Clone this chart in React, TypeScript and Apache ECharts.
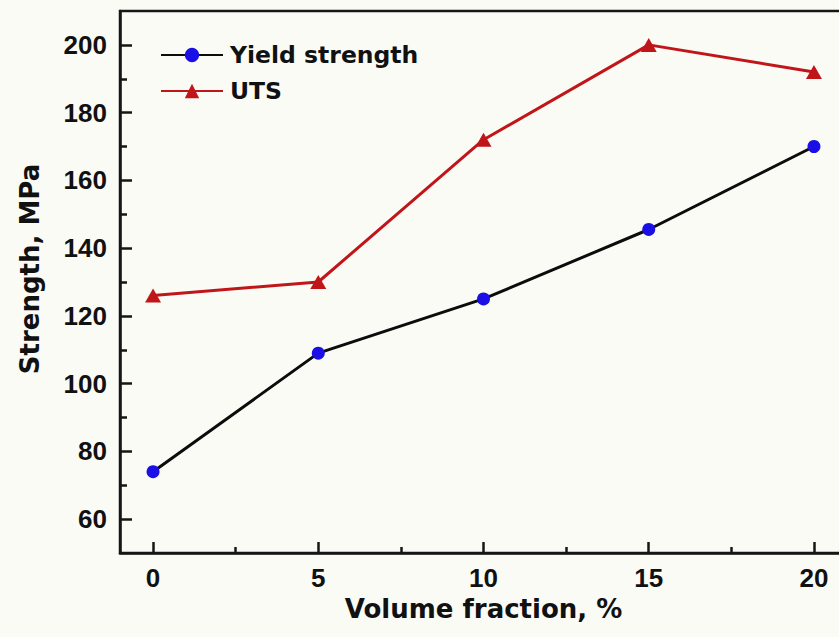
import React, { useEffect, useRef } from "react";
import * as echarts from "echarts";

const volumeFraction = [0, 5, 10, 15, 20];
const yieldStrength = [74, 109, 125, 145.5, 170];
const utsStrength = [126, 130, 172, 200, 192];
const xTickValues = [0, 5, 10, 15, 20];
const xMinorTicks = [2.5, 7.5, 12.5, 17.5];
const yTickValues = [60, 80, 100, 120, 140, 160, 180, 200];
const yMinorTicks = [70, 90, 110, 130, 150, 170, 190];

const TITLE_FONT = "DejaVu Sans";
const TICK_FONT = "Liberation Sans";

export default function App() {
  const ref = useRef<HTMLDivElement>(null);
  useEffect(() => {
    if (!ref.current) return;
    const chart = echarts.init(ref.current, undefined, { renderer: "svg" });
    const axisLine = { show: true, onZero: false, lineStyle: { color: "#161616", width: 2.5 } };
    const hiddenLine = { show: false, onZero: false };
    chart.setOption({
      animation: false,
      backgroundColor: "#fbfbf6",
      grid: {
        left: 120,
        top: 11,
        right: 3,
        bottom: 84,
        show: true,
        borderColor: "#161616",
        borderWidth: 2.5,
        backgroundColor: "transparent",
      },
      legend: {
        orient: "vertical",
        left: 160,
        top: 41,
        padding: 0,
        itemWidth: 62,
        itemHeight: 18,
        itemGap: 8,
        textStyle: {
          fontFamily: TITLE_FONT,
          fontWeight: "bold",
          fontSize: 23.5,
          color: "#111",
          lineHeight: 28,
          padding: [0, 0, 0, 2],
        },
        data: ["Yield strength", "UTS"],
      },
      xAxis: [
        {
          type: "value",
          min: -1,
          max: 21,
          position: "bottom",
          axisLine,
          splitLine: { show: false },
          axisTick: {
            show: true,
            inside: true,
            length: 11,
            lineStyle: { color: "#161616", width: 2.5 },
            customValues: xTickValues,
          },
          axisLabel: {
            customValues: xTickValues,
            margin: 12,
            fontFamily: TICK_FONT,
            fontWeight: "bold",
            fontSize: 26,
            color: "#111",
          },
          name: "Volume fraction, %",
          nameLocation: "middle",
          nameGap: 41,
          nameTextStyle: {
            fontFamily: TITLE_FONT,
            fontWeight: "bold",
            fontSize: 26,
            color: "#111",
          },
        },
        {
          type: "value",
          min: -1,
          max: 21,
          position: "bottom",
          axisLine: hiddenLine,
          splitLine: { show: false },
          axisLabel: { show: false },
          axisTick: {
            show: true,
            inside: true,
            length: 6,
            lineStyle: { color: "#161616", width: 2.5 },
            customValues: xMinorTicks,
          },
        },
      ],
      yAxis: [
        {
          type: "value",
          min: 50,
          max: 210,
          position: "left",
          axisLine,
          splitLine: { show: false },
          axisTick: {
            show: true,
            inside: true,
            length: 12,
            lineStyle: { color: "#161616", width: 2.5 },
            customValues: yTickValues,
          },
          axisLabel: {
            customValues: yTickValues,
            margin: 13,
            fontFamily: TICK_FONT,
            fontWeight: "bold",
            fontSize: 26,
            color: "#111",
          },
        },
        {
          type: "value",
          min: 50,
          max: 210,
          position: "left",
          axisLine: hiddenLine,
          splitLine: { show: false },
          axisLabel: { show: false },
          axisTick: {
            show: true,
            inside: true,
            length: 7,
            lineStyle: { color: "#161616", width: 2.5 },
            customValues: yMinorTicks,
          },
        },
      ],
      graphic: [
        {
          type: "text",
          x: 30,
          y: 269,
          rotation: Math.PI / 2,
          style: {
            text: "Strength, MPa",
            font: `bold 26px "${TITLE_FONT}"`,
            fill: "#111",
            align: "center",
            verticalAlign: "middle",
            textAlign: "center",
            textVerticalAlign: "middle",
          },
        },
      ],
      series: [
        {
          name: "Yield strength",
          type: "line",
          xAxisIndex: 0,
          yAxisIndex: 0,
          data: volumeFraction.map((x, i) => [x, yieldStrength[i]]),
          symbol: "circle",
          symbolSize: 13,
          lineStyle: { color: "#0c0c0c", width: 3 },
          itemStyle: { color: "#1a10e6", borderWidth: 0 },
          z: 3,
        },
        {
          name: "UTS",
          type: "line",
          xAxisIndex: 0,
          yAxisIndex: 0,
          data: volumeFraction.map((x, i) => [x, utsStrength[i]]),
          symbol: "triangle",
          symbolSize: [16, 14],
          lineStyle: { color: "#c0161a", width: 3 },
          itemStyle: { color: "#c0161a", borderWidth: 0 },
          z: 2,
        },
      ],
    });
    return () => chart.dispose();
  }, []);
  return (
    <div
      style={{
        position: "fixed",
        left: 0,
        top: 0,
        width: 839,
        height: 637,
        overflow: "hidden",
        background: "#fbfbf6",
      }}
    >
      <div ref={ref} style={{ width: 850, height: 637 }} />
    </div>
  );
}
